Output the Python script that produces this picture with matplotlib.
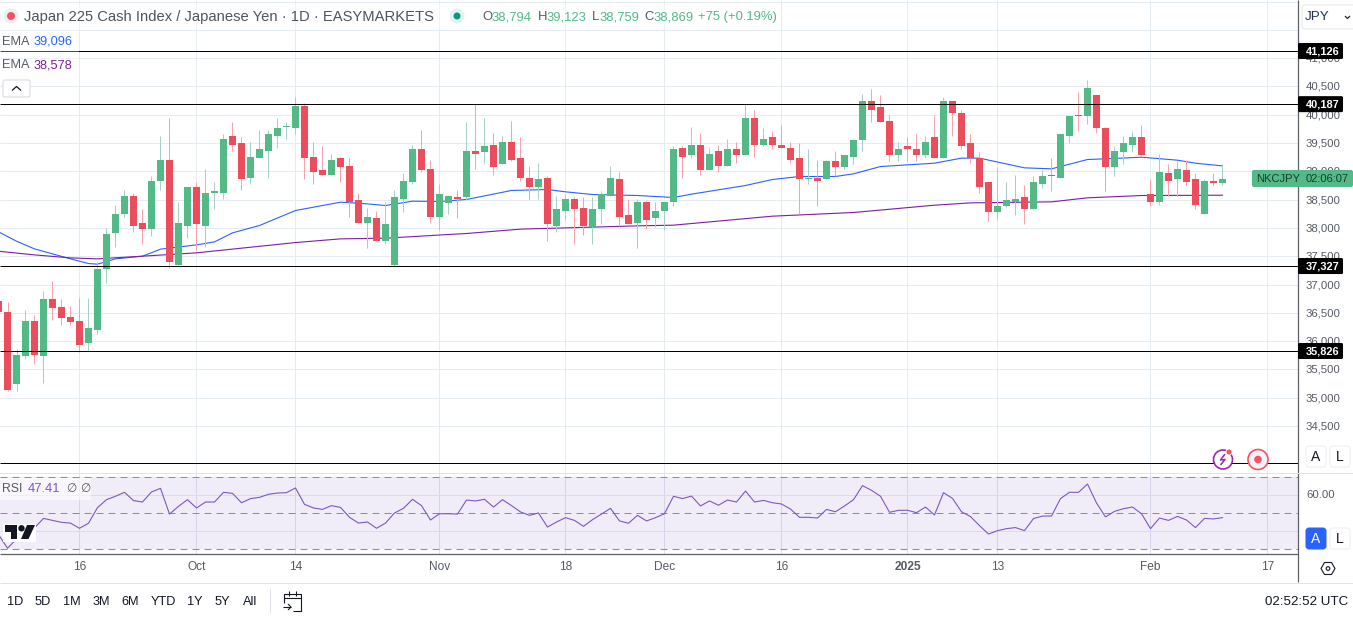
import matplotlib
matplotlib.use("Agg")
import matplotlib.pyplot as plt
from matplotlib.patches import Rectangle, Circle, FancyBboxPatch, Polygon

plt.rcParams['font.family'] = ['Liberation Sans', 'DejaVu Sans']

W, H = 1353, 618

opens = [36718,36512,35251,35746,36364,35746,36753,36612,36435,36364,
35976,36205,37283,37902,38238,38573,38079,37990,38821,39192,
37354,38043,38715,38043,38626,38626,39633,39492,38874,39227,
39351,39633,39775,39757,40163,39245,39015,38927,39227,39103,
38485,38079,38167,37761,37337,38520,38803,39386,39050,38202,
38432,38538,38538,39351,39333,39457,39121,39510,39227,38874,
38715,38874,38043,38291,38520,38361,38008,38326,38573,38856,
38220,38079,38467,38167,38308,38450,39404,39280,39457,39015,
39351,39103,39386,39280,39934,39457,39598,39474,39421,39227,
38856,38891,38856,39174,39068,39262,39545,40251,40128,39898,
39280,39439,39403,39280,39615,39227,40234,40039,39492,39244,
38820,38273,38379,38467,38538,38343,38785,38926,38891,39633,
39986,39986,40357,39774,39068,39350,39474,39598,38591,38467,
38979,38856,39032,38856,38255,38838,38794]
closes = [36512,35145,35764,36364,35764,36753,36594,36417,36347,35940,
36241,37283,37901,38238,38573,38043,37973,38838,39192,37390,
38079,38715,38061,38626,38644,39563,39474,38856,39245,39386,
39651,39757,39792,40163,39227,38997,38944,39192,39068,38450,
38096,38185,37761,38061,38538,38821,39386,39015,38202,38591,
38556,38520,39368,39315,39439,39068,39510,39209,38874,38715,
38856,38061,38326,38520,38326,38026,38326,38591,38874,38202,
38061,38467,38149,38308,38467,39386,39262,39474,39015,39315,
39103,39386,39280,39934,39457,39580,39457,39404,39209,38856,
38874,38821,39174,39068,39280,39545,40251,40092,39880,39280,
39386,39386,39280,39527,39227,40234,40022,39456,39227,38732,
38273,38396,38485,38520,38343,38803,38926,38909,39651,39986,
39969,40481,39757,39068,39368,39492,39598,39297,38467,38997,
38838,39050,38820,38414,38838,38794,38869]
highs = [36760,36700,35870,36559,36470,36894,37071,36753,36629,36771,
36771,37407,38007,38414,38662,38626,38326,38909,39633,39951,
38450,38732,38803,39033,38803,39651,39863,39598,39510,39722,
39722,39951,39863,40305,40199,39510,39439,39298,39262,39227,
38609,38344,38308,38450,38679,38962,39457,39739,39192,38785,
38573,38662,39863,40181,39951,39686,39633,39881,39598,39103,
39139,38909,38573,38591,38538,38538,38538,38644,39086,38980,
38520,38503,38485,38467,38467,39439,39439,39792,39669,39404,
39474,39563,39527,40181,40075,39757,39704,39810,39510,39492,
39386,39192,39192,39368,39297,39580,40375,40446,40357,40004,
39527,39598,39686,39633,40004,40322,40251,40075,39668,39350,
38820,39068,38803,38944,38767,38926,39032,39244,39651,40004,
40410,40622,40357,39792,39456,39633,39721,39827,38873,39315,
39138,39191,39209,38962,38873,38979,39123]
lows = [36480,35128,35128,35693,35605,35269,36382,36294,36294,35805,
35834,36135,37036,37655,38185,37920,37708,37849,38679,37284,
37354,37814,37602,37672,38326,38520,39351,38662,38785,39227,
38891,39404,39563,39651,38856,38785,38944,38927,38803,38202,
38096,37637,37761,37725,37319,38273,38768,38997,38079,37955,
38255,38167,38485,39050,39139,38944,39121,39174,38821,38503,
38503,37778,37937,38149,37708,37867,37708,38061,38573,38026,
38061,37637,37990,38008,37955,38379,38874,39227,38944,39015,
38997,39103,39156,39280,39262,39439,39386,39404,39139,38238,
38768,38379,38856,38909,39050,39138,39368,39863,39880,39191,
39174,39191,39174,39227,39227,39227,39633,39386,39156,38626,
38131,38149,38361,38220,38061,38343,38697,38644,38891,39509,
39704,39845,39686,38661,38909,39121,39350,39297,38379,38414,
38573,38573,38767,38343,38255,38767,38759]
first_bar = -1

ema_blue_idx = [-1,1,3,5,7,9,10,12,15,17,21,23,25,28,32,37,40,42,45,48,51,56,60,62,65,70,74,76,82,85,88,92,94,97,103,106,108,113,116,120,122,126,130,132,135]
ema_blue_val = [37931,37766,37630,37542,37454,37371,37360,37454,37501,37625,37701,37754,37913,38043,38308,38455,38425,38396,38473,38467,38503,38662,38679,38638,38591,38573,38538,38597,38750,38856,38909,38909,38956,39085,39144,39233,39233,39062,39044,39209,39221,39250,39197,39144,39096]
ema_purple_idx = [-1,3,7,10,15,21,32,37,42,49,51,57,70,74,85,94,103,107,116,120,126,135]
ema_purple_val = [37589,37524,37471,37454,37501,37560,37742,37807,37819,37884,37902,37979,38037,38049,38208,38273,38402,38443,38461,38532,38573,38578]

rsi = [38.0,30.4,35.6,38.0,41.7,47.0,45.9,44.8,44.4,41.5,
44.3,53.0,57.4,59.3,61.5,56.9,56.1,61.7,63.7,49.4,
53.7,57.4,52.8,56.1,56.1,61.5,60.9,55.7,58.0,58.7,
60.4,61.1,61.3,63.9,54.8,52.8,52.0,54.1,53.1,47.6,
44.4,45.0,41.5,44.4,50.0,52.6,57.6,54.1,46.1,49.6,
49.6,49.4,57.2,56.7,57.6,53.3,57.4,54.1,50.6,48.7,
50.0,42.2,45.0,47.4,45.9,42.6,46.3,49.4,52.6,45.6,
44.3,48.7,45.6,47.4,49.6,59.3,58.0,59.4,53.9,56.7,
54.3,57.2,56.1,62.2,56.1,57.0,55.7,55.0,52.2,47.6,
47.6,47.2,52.0,50.7,53.9,57.4,65.2,62.6,59.3,50.4,
51.5,51.5,50.2,53.3,48.9,61.3,58.1,50.7,48.0,43.0,
38.3,40.2,41.3,41.9,40.2,46.9,48.3,48.3,58.0,61.5,
61.5,66.1,55.6,47.8,50.9,52.4,53.3,49.6,41.3,47.2,
45.9,48.1,46.1,41.9,47.0,46.7,47.41]

hlevels = [41126, 40187, 37327, 35826]
hlevel_labels = ['41,126', '40,187', '37,327', '35,826']
extra_level = 33847
price_ticks = list(range(34500, 42001, 500))
price_tick_labels = ['34,500','35,000','35,500','36,000','36,500','37,000','37,500','38,000',
                     '38,500','39,000','39,500','40,000','40,500','41,000']
rsi_grid = [60, 40]
rsi_levels = [70, 50, 30]
time_idx = [8, 21, 32, 48, 62, 73, 86, 100, 110, 127, 140]
time_labels = ['16', 'Oct', '14', 'Nov', '18', 'Dec', '16', '2025', '13', 'Feb', '17']
range_labels = ['1D', '5D', '1M', '3M', '6M', 'YTD', '1Y', '5Y', 'All']
range_x = [15, 43, 72, 101, 130, 163, 195, 222, 250]

GREEN, RED = '#53b987', '#eb4d5c'
GWICK, RWICK = '#a5cfc9', '#f6a3ad'
BLUE, PURPLE = '#2962ff', '#7b1fa2'
GRID = '#e4ecf2'
TXT = '#555a63'
PX = 0.72

def rect(x0, y0, x1, y1):
    return [x0 / W, 1 - y1 / H, (x1 - x0) / W, (y1 - y0) / H]

fig = plt.figure(figsize=(W / 100, H / 100), dpi=100, facecolor='white')
BAR_PX, BAR_C = 9.0, 7.5
xl = (-BAR_C / BAR_PX, (1298 - BAR_C) / BAR_PX)

# ---- main price pane
ax = fig.add_axes(rect(0, 0, 1298, 472.5))
ax.set_xlim(*xl)
PXP = 5300 / 300.0
Y_REF = 51.0
ax.set_ylim(41126 - (472.5 - Y_REF) * PXP, 41126 + Y_REF * PXP)
for s in ax.spines.values():
    s.set_visible(False)
ax.set_xticks([]); ax.set_yticks([])
ax.hlines(price_ticks, *xl, color=GRID, lw=PX, zorder=1)
ax.vlines(time_idx, *ax.get_ylim(), color=GRID, lw=PX, zorder=1)
ax.plot(ema_blue_idx, ema_blue_val, color=BLUE, lw=0.8, zorder=2)
ax.plot(ema_purple_idx, ema_purple_val, color=PURPLE, lw=0.8, zorder=2)
idx = [first_bar + k for k in range(len(opens))]
for i, o, h, l, c in zip(idx, opens, highs, lows, closes):
    up = c >= o
    ax.vlines(i, l, h, color=GWICK if up else RWICK, lw=PX, zorder=3)
    lo, hi = min(o, c), max(o, c)
    ax.bar(i, max(hi - lo, 18), bottom=lo, width=7 / BAR_PX,
           color=GREEN if up else RED, linewidth=0, zorder=4)
ax.hlines(hlevels + [extra_level], *xl, color='black', lw=PX, zorder=5)

# ---- RSI pane
ar = fig.add_axes(rect(0, 473, 1298, 554))
ar.set_xlim(*xl)
ar.set_ylim(70 - (554 - 477) / 1.8, 70 + (477 - 473) / 1.8)
for s in ar.spines.values():
    s.set_visible(False)
ar.set_xticks([]); ar.set_yticks([])
ar.vlines(time_idx, *ar.get_ylim(), color='#dfe3f0', lw=PX, zorder=1)
ar.axhspan(rsi_levels[2], rsi_levels[0], color='#7e57c2', alpha=0.1, lw=0, zorder=1)
ar.hlines(rsi_grid, *xl, color='#d8dcec', lw=PX, zorder=2)
ar.hlines(rsi_levels, *xl, color='#8a8d98', lw=PX, linestyles=(0, (7, 5)), zorder=2)
ar.plot(idx, rsi, color='#7e57c2', lw=0.8, zorder=3)

# ---- overlay in pixel coordinates for the terminal chrome
ui = fig.add_axes([0, 0, 1, 1], zorder=10)
ui.set_xlim(0, W); ui.set_ylim(H, 0); ui.axis('off'); ui.patch.set_alpha(0)

def T(x, y, s, size=9.4, color=TXT, ha='left', **kw):
    return ui.text(x, y, s, fontsize=size, color=color, ha=ha, va='center', **kw)

def L(xs, ys, color='#787b86', lw=PX, **kw):
    ui.plot(xs, ys, color=color, lw=lw, solid_capstyle='butt', **kw)

# frame lines
L([1298, 1298], [0, 582], color='#5d606b', lw=0.9)
L([0, 1298], [554, 554], color='#5d606b', lw=0.9)
L([0, 1353], [582.5, 582.5], color='#e0e3eb')
L([0, 1353], [472.5, 472.5], color='#e0e3eb')

# header
ui.add_patch(Rectangle((0, 4), 780, 25, fc='white', ec='none', alpha=0.5))
ui.add_patch(Circle((11, 16), 7.5, fc='#eef0f4', ec='none'))
ui.add_patch(Circle((11, 16), 4, fc='#f7525f', ec='none'))
T(24, 17, 'Japan 225 Cash Index / Japanese Yen · 1D · EASYMARKETS', size=10.65, color='#4f535c')
ui.add_patch(Circle((457, 16), 7.5, fc='#e3f4f0', ec='none'))
ui.add_patch(Circle((457, 16), 3.5, fc='#089981', ec='none'))
VAL = '#53b987'
T(482.5, 17, 'O', size=9.4)
T(491.5, 17, '38,794', size=9.4, color=VAL)
T(537.5, 17, 'H', size=9.4)
T(546.5, 17, '39,123', size=9.4, color=VAL)
T(591.5, 17, 'L', size=9.4)
T(599, 17, '38,759', size=9.4, color=VAL)
T(644, 17, 'C', size=9.4)
T(653, 17, '38,869', size=9.4, color=VAL)
T(697.5, 17, '+75 (+0.19%)', size=9.4, color=VAL)

# legend
ui.add_patch(Rectangle((0, 30), 79, 46, fc='white', ec='none', alpha=0.3))
T(2, 42, 'EMA', size=9.2)
T(34, 42, '39,096', size=9.2, color=BLUE)
T(2, 65, 'EMA', size=9.2)
T(34, 65, '38,578', size=9.2, color=PURPLE)
ui.add_patch(FancyBboxPatch((3, 80), 27, 17, boxstyle='round,pad=0,rounding_size=2',
                            fc='white', ec='#d5d8e0', lw=PX))
L([12, 16.5, 21], [90.5, 86.5, 90.5], color='#131722', lw=0.9)

# price axis labels
y_of = lambda p: Y_REF + (41126 - p) / PXP
for p, s in zip(price_ticks, price_tick_labels):
    T(1306, y_of(p) + 0.5, s, size=8.2, color='#555a63')
for p, s in zip(hlevels, hlevel_labels):
    ui.add_patch(FancyBboxPatch((1298, y_of(p) - 8), 45, 16,
                                boxstyle='round,pad=0,rounding_size=1.5', fc='black', ec='none', zorder=5))
    T(1306, y_of(p) + 0.5, s, size=7.9, color='white', fontweight='bold', zorder=6)

# JPY box
ui.add_patch(FancyBboxPatch((1302, 5), 60, 24, boxstyle='round,pad=0,rounding_size=3',
                            fc='white', ec='#e6e8ee', lw=PX))
T(1305, 16.5, 'JPY', size=9.6, color='#22304a')
L([1345, 1347.5, 1350], [16, 18.5, 16], color='#222', lw=0.9)

# last price tag
ui.add_patch(FancyBboxPatch((1252, 170), 101, 17, boxstyle='round,pad=0,rounding_size=2',
                            fc=GREEN, ec='none', zorder=5))
T(1256, 179, 'NKCJPY', size=8.0, color='#153d2c', zorder=6)
T(1306, 179, '02:06:07', size=8.0, color='#153d2c', zorder=6)

# A / L buttons
for x0, s, fc, col, y0 in [(1306, 'A', 'white', '#131722', 446), (1330, 'L', 'white', '#131722', 446),
                           (1306, 'A', BLUE, 'white', 528), (1330, 'L', 'white', '#131722', 528)]:
    ui.add_patch(FancyBboxPatch((x0, y0), 20, 21, boxstyle='round,pad=0,rounding_size=3',
                                fc=fc, ec='#eceef2' if fc == 'white' else fc, lw=PX, zorder=5))
    T(x0 + 10, y0 + 11, s, size=10, color=col, ha='center', zorder=6)
T(1306, 495.5, '60.00', size=8.2)

# settings icon
ui.add_patch(Polygon([(1321, 568.5), (1324.5, 562.5), (1331.5, 562.5), (1335, 568.5), (1331.5, 574.5), (1324.5, 574.5)],
                     closed=True, fc='white', ec='#131722', lw=0.8))
ui.add_patch(Circle((1328, 568.5), 1.8, fc='white', ec='#131722', lw=0.8))

# alert icons
ui.add_patch(Circle((1223, 459.5), 9.5, fc='white', ec='#9c27b0', lw=1.2, zorder=6))
L([1225, 1220.5, 1225, 1220.5], [454, 460, 459.5, 465], color='#9c27b0', lw=1.1, zorder=7)
ui.add_patch(Circle((1229, 452), 3, fc='#f7525f', ec='white', lw=0.6, zorder=8))
ui.add_patch(Circle((1258, 459.5), 10, fc='#f0f3fa', ec='#f7525f', lw=1.2, zorder=6))
ui.add_patch(Circle((1258, 459.5), 3.8, fc='#f7525f', ec='none', zorder=7))

# RSI legend
ui.add_patch(Rectangle((0, 478), 91, 22, fc='white', ec='none', alpha=0.6, zorder=3))
T(2, 489.5, 'RSI', size=8.8, zorder=4)
T(28, 489.5, '47.41', size=9.4, color='#7e57c2', zorder=4)
T(66.5, 489.5, '∅', size=8.6, color='#555a63', zorder=4)
T(80, 489.5, '∅', size=8.6, color='#555a63', zorder=4)

# logo
ui.add_patch(Rectangle((3, 524), 33, 18, fc='white', ec='none', zorder=5))
ui.add_patch(Polygon([(5, 525), (17, 525), (17, 539), (10.5, 539), (10.5, 531.5), (5, 531.5)],
                     closed=True, fc='#131722', ec='none', zorder=6))
ui.add_patch(Circle((21.5, 528.3), 3.2, fc='#131722', ec='none', zorder=6))
ui.add_patch(Polygon([(27, 525), (35, 525), (28.5, 539), (21, 539)],
                     closed=True, fc='#131722', ec='none', zorder=6))

# time axis labels
for i, s in zip(time_idx, time_labels):
    T(BAR_C + BAR_PX * i, 567, s, size=8.6, ha='center',
      fontweight='bold' if s == '2025' else 'normal')

# bottom toolbar
for x, s in zip(range_x, range_labels):
    T(x, 602, s, size=9.2, color='#131722', ha='center')
L([269.5, 269.5], [589, 613], color='#e0e3eb')
L([284, 284, 301, 301, 293], [603, 594, 594, 611, 611], color='#131722', lw=0.8)
L([284, 301], [598, 598], color='#131722', lw=0.8)
L([289, 289], [591, 596], color='#131722', lw=0.8)
L([296, 296], [591, 596], color='#131722', lw=0.8)
L([283, 291], [607, 607], color='#131722', lw=0.8)
L([288, 291, 288], [604, 607, 610], color='#131722', lw=0.8)
T(1348, 602, '02:52:52 UTC', size=9.6, color='#131722', ha='right')

fig.savefig('out.png', dpi=100)
